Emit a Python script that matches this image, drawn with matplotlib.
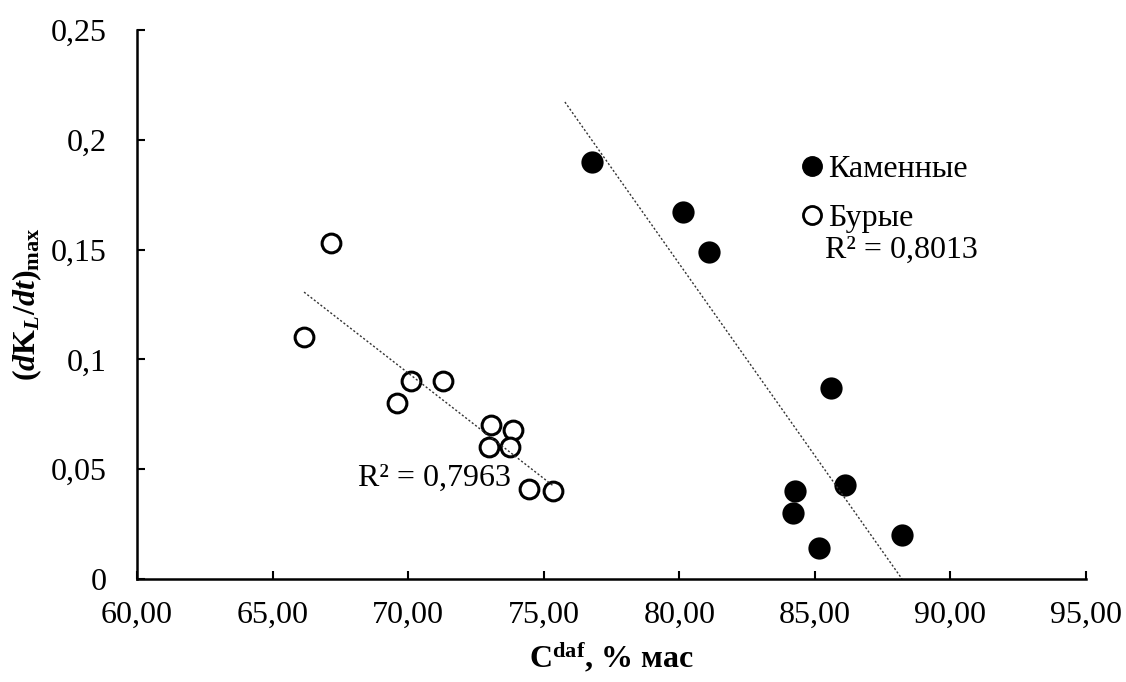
import numpy as np
import matplotlib
matplotlib.use("Agg")
import matplotlib.pyplot as plt
from matplotlib.lines import Line2D
from matplotlib.ticker import FuncFormatter

# hard coals
kam_c = [76.78, 80.15, 81.09, 85.59, 84.27, 84.19, 85.17, 86.12, 88.21]
kam_k = [0.190, 0.167, 0.149, 0.087, 0.040, 0.030, 0.014, 0.043, 0.020]
# brown coals
bur_c = [67.16, 66.16, 70.10, 71.28, 69.58, 73.05, 73.85, 72.97, 73.75, 74.45, 75.33]
bur_k = [0.153, 0.110, 0.090, 0.090, 0.080, 0.070, 0.068, 0.060, 0.060, 0.041, 0.040]

kam_r2 = "R² = 0,8013"
bur_r2 = "R² = 0,7963"

plt.rcParams["font.family"] = ["Liberation Serif", "DejaVu Serif"]
plt.rcParams["mathtext.fontset"] = "custom"
plt.rcParams["mathtext.rm"] = "Liberation Serif"
plt.rcParams["mathtext.it"] = "Liberation Serif:italic"
plt.rcParams["mathtext.bf"] = "Liberation Serif:bold"
plt.rcParams["mathtext.bfit"] = "Liberation Serif:italic:bold"

fs = 23

fig = plt.figure(figsize=(11.26, 6.82), dpi=100)
ax = fig.add_axes([0.1217, 0.151, 0.8428, 0.805])

ax.plot(kam_c, kam_k, "o", ms=14.5, mfc="black", mec="black", mew=1.5)
ax.plot(bur_c, bur_k, "o", ms=13.5, mfc="white", mec="black", mew=2.2)

# linear trend lines
p = np.polyfit(kam_c, kam_k, 1)
xs = np.array([min(kam_c) - 1, max(kam_c)])
ax.plot(xs, np.polyval(p, xs), ls=(0, (1.5, 1.5)), color="#333333", lw=1.0)
p2 = np.polyfit(bur_c, bur_k, 1)
xs2 = np.array([min(bur_c), max(bur_c)])
ax.plot(xs2, np.polyval(p2, xs2), ls=(0, (1.5, 1.5)), color="#333333", lw=1.0)

ax.text(85.38, 0.1498, kam_r2, fontsize=fs, va="center")
ax.text(68.15, 0.046, bur_r2, fontsize=fs, va="center")

ax.set_xlim(60, 95)
ax.set_ylim(0, 0.25)
ax.set_xticks(np.arange(60, 96, 5))
ax.set_yticks(np.arange(0, 0.26, 0.05))
ax.xaxis.set_major_formatter(FuncFormatter(lambda v, _: f"{v:.2f}".replace(".", ",")))
ax.yaxis.set_major_formatter(FuncFormatter(lambda v, _: ("%g" % round(v, 2)).replace(".", ",")))
ax.tick_params(direction="in", length=6, width=1.5, labelsize=fs)
ax.tick_params(axis="x", pad=16)
ax.tick_params(axis="y", pad=22)
for s in ["top", "right"]:
    ax.spines[s].set_visible(False)
for s in ["left", "bottom"]:
    ax.spines[s].set_linewidth(1.8)

ax.set_xlabel(r"$\mathbf{C^{daf}}$, % мас", fontsize=fs, fontweight="bold", labelpad=8)
ax.set_ylabel(r"$\mathbf{(}\mathbfit{d}\mathbf{K}_{\mathbfit{L}}\mathbf{/}\mathbfit{dt}\mathbf{)}_{\mathbf{max}}$",
              fontsize=fs, labelpad=5)

handles = [Line2D([], [], ls="none", marker="o", ms=14, mfc="black", mec="black"),
           Line2D([], [], ls="none", marker="o", ms=13, mfc="white", mec="black", mew=2)]
ax.legend(handles, ["Каменные", "Бурые"], loc="upper left", bbox_to_anchor=(0.671, 0.825),
          frameon=False, fontsize=fs, handlelength=0.6, handletextpad=0.2, labelspacing=0.6)

fig.savefig("out.png", dpi=100)
